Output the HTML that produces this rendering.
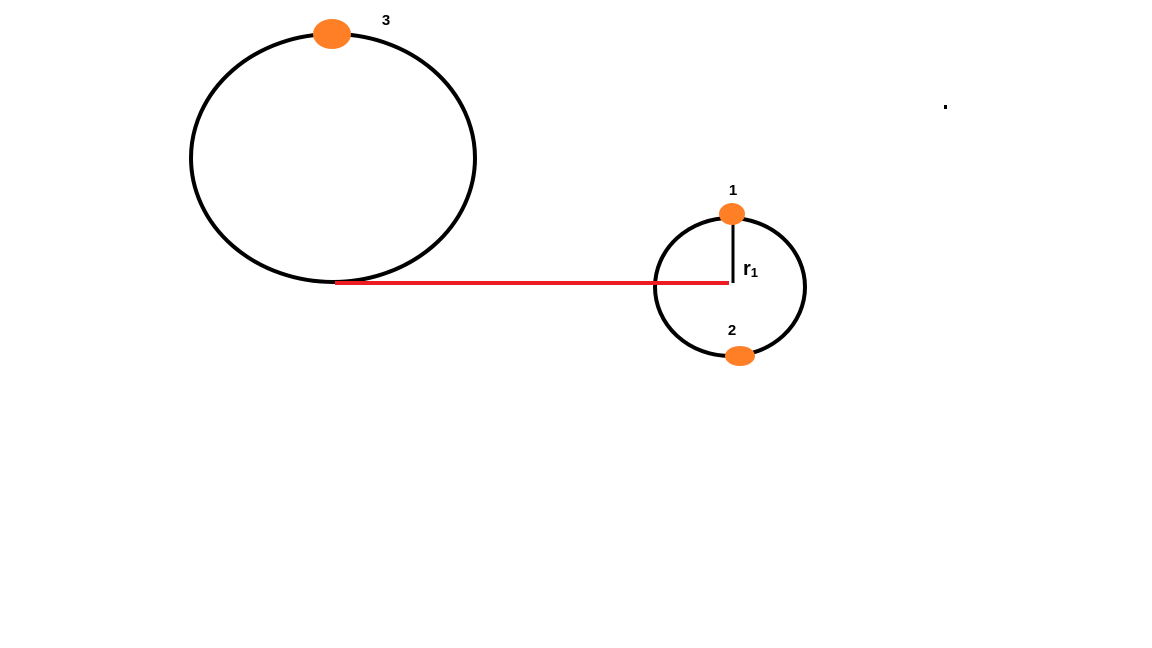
<!DOCTYPE html>
<html><head><meta charset="utf-8"><style>
html,body{margin:0;padding:0;background:#fff;}
svg{display:block;}
text{font-family:"Liberation Sans",sans-serif;font-weight:bold;fill:#000;}
</style></head><body>
<svg width="1152" height="648" viewBox="0 0 1152 648">
<rect width="1152" height="648" fill="#fff"/>
<ellipse cx="333" cy="158" rx="142" ry="124" fill="none" stroke="#000" stroke-width="4"/>
<ellipse cx="730" cy="287" rx="75" ry="69" fill="none" stroke="#000" stroke-width="4"/>
<line x1="335" y1="283" x2="729" y2="283" stroke="#ed1c24" stroke-width="4"/>
<line x1="733" y1="224" x2="733" y2="283" stroke="#000" stroke-width="3"/>
<ellipse cx="332" cy="34" rx="19" ry="15" fill="#ff7f27"/>
<ellipse cx="732" cy="214" rx="13" ry="11" fill="#ff7f27"/>
<ellipse cx="740" cy="356" rx="15" ry="10" fill="#ff7f27"/>
<text x="386" y="25" font-size="15" text-anchor="middle">3</text>
<text x="733" y="195" font-size="15" text-anchor="middle">1</text>
<text x="732" y="335" font-size="15" text-anchor="middle">2</text>
<text x="743" y="275" font-size="20">r<tspan font-size="13" dy="2">1</tspan></text>
<rect x="944" y="105" width="3" height="4" fill="#000"/>
</svg>
</body></html>
